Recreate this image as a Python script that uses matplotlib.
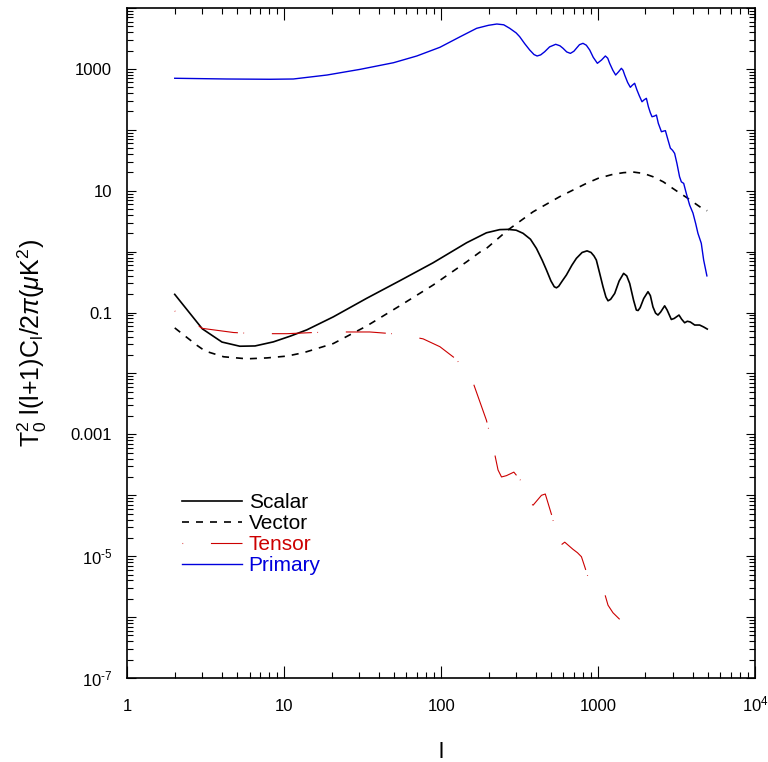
import numpy as np
import matplotlib
matplotlib.use("Agg")
import matplotlib.pyplot as plt
from matplotlib.ticker import FixedLocator, LogLocator, NullFormatter

plt.rcParams['font.family'] = ['Liberation Sans', 'DejaVu Sans']
plt.rcParams['mathtext.fontset'] = 'custom'
plt.rcParams['mathtext.rm'] = 'Liberation Sans'
plt.rcParams['mathtext.it'] = 'Liberation Sans:italic'
plt.rcParams['mathtext.bf'] = 'Liberation Sans:bold'

# scalar (solid black)
l_scalar = [2, 3, 4, 5.2, 6.5, 8.5, 10.9, 13.9, 20.5, 33.4, 54.4, 88.7, 145, 194, 236, 266,
            300, 332, 370, 404, 440, 468, 500, 525, 542, 560, 590, 627, 680, 726, 790, 849,
            900, 940, 973, 1020, 1073, 1120, 1155, 1200, 1274, 1360, 1452, 1520, 1588, 1680,
            1750, 1795, 1850, 1950, 2077, 2150, 2233, 2320, 2404, 2500, 2652, 2750, 2925, 3050,
            3273, 3400, 3556, 3700, 3865, 4121, 4430, 4700, 4955]
c_scalar = [0.199, 0.054, 0.0328, 0.028, 0.0283, 0.033, 0.041, 0.052, 0.085, 0.171, 0.333, 0.657,
            1.40, 2.04, 2.30, 2.32, 2.25, 2.0, 1.6, 1.13, 0.72, 0.50, 0.33, 0.265, 0.255, 0.27,
            0.33, 0.413, 0.6, 0.776, 0.97, 1.03, 0.97, 0.85, 0.728, 0.45, 0.266, 0.18, 0.156,
            0.165, 0.206, 0.33, 0.44, 0.40, 0.30, 0.16, 0.11, 0.108, 0.12, 0.17, 0.22, 0.19,
            0.124, 0.098, 0.091, 0.102, 0.129, 0.11, 0.077, 0.08, 0.091, 0.078, 0.068, 0.072,
            0.070, 0.0624, 0.0624, 0.058, 0.0536]

# vector (dashed black)
l_vector = [2, 2.77, 3.13, 4.1, 5.77, 7.74, 10.4, 13.3, 20.5, 33.4, 54.4, 88.7, 145, 176, 194,
            266, 384, 569, 841, 1000, 1242, 1450, 1666, 1950, 2233, 2600, 2992, 3300, 3645,
            4100, 4613, 4950]
c_vector = [0.056, 0.029, 0.0233, 0.0188, 0.0174, 0.018, 0.0193, 0.022, 0.031, 0.06, 0.129, 0.283,
            0.68, 0.98, 1.13, 2.27, 4.5, 8.0, 13.2, 16.0, 18.6, 19.8, 20.3, 19.2, 17.0, 14.0,
            10.9, 9.2, 7.8, 6.3, 5.1, 4.7]

# tensor (red dash-dot)
l_tensor = [2, 3, 4.75, 6.7, 10.4, 15.3, 23.7, 35, 54.4, 76.6, 98, 125, 160, 194, 214, 230, 242,
            260, 290, 332, 366, 385, 435, 460, 511, 555, 574, 612, 690, 738, 782, 821, 883,
            930, 1000, 1099, 1155, 1242, 1370]
c_tensor = [0.106, 0.055, 0.047, 0.045, 0.045, 0.047, 0.048, 0.048, 0.044, 0.037, 0.0275, 0.017,
            0.0069, 0.0017, 6.3e-4, 2.6e-4, 2.0e-4, 2.1e-4, 2.4e-4, 1.57e-4, 7.4e-5, 6.9e-5,
            1.0e-4, 1.05e-4, 4.3e-5, 1.6e-5, 1.5e-5, 1.7e-5, 1.3e-5, 1.14e-5, 9.8e-6, 6.7e-6,
            3.7e-6, 3.2e-6, 3.0e-6, 2.45e-6, 1.57e-6, 1.18e-6, 9.2e-7]

# primary (blue)
l_primary = [2, 4.3, 8.1, 11.4, 18.7, 30.4, 49.6, 69.8, 98, 132, 168, 200, 226, 250, 273, 300,
             316, 340, 366, 390, 408, 430, 456, 490, 536, 570, 597, 630, 665, 700, 726, 760,
             800, 840, 883, 930, 988, 1050, 1111, 1150, 1183, 1240, 1292, 1350, 1405, 1440,
             1475, 1540, 1603, 1650, 1707, 1766, 1830, 1902, 1960, 2028, 2089, 2150, 2203, 2280,
             2350, 2416, 2529, 2600, 2681, 2786, 2884, 2980, 3070, 3176, 3300, 3388, 3507, 3645,
             3828, 4018, 4180, 4322, 4540, 4700, 4930]
c_primary = [702, 683, 676, 683, 794, 984, 1264, 1630, 2264, 3380, 4640, 5200, 5460, 5300, 4640,
             3900, 3380, 2600, 2044, 1720, 1630, 1700, 1915, 2300, 2535, 2400, 2180, 1900, 1800,
             1950, 2180, 2500, 2630, 2450, 2044, 1550, 1236, 1400, 1630, 1500, 1236, 950, 794,
             900, 1023, 950, 794, 600, 499, 540, 581, 451, 360, 289, 310, 329, 239, 190, 164,
             168, 175, 128, 93, 95, 97, 68, 50, 46, 41, 28, 17, 14, 13.2, 9, 5.8, 4.3, 2.9, 2.0,
             1.37, 0.73, 0.4]

x_ticks = [1, 10, 100, 1000, 1e4]
x_labels = ['1', '10', '100', '1000', r'10$^4$']
y_ticks = [1e-7, 1e-6, 1e-5, 1e-4, 1e-3, 1e-2, 1e-1, 1, 10, 100, 1000, 1e4]
y_labels = [r'10$^{\text{-7}}$', '', r'10$^{\text{-5}}$', '', '0.001', '', '0.1', '', '10', '',
            '1000', '']

fig = plt.figure(figsize=(7.68, 7.62), dpi=100)
ax = fig.add_axes([0.166, 0.1102, 0.8172, 0.8793])

ax.plot(l_scalar, c_scalar, color='black', lw=1.2, label='Scalar')
ax.plot(l_vector, c_vector, color='black', lw=1.2, linestyle=(0, (4.2, 4.2)), label='Vector')
ax.plot(l_tensor, c_tensor, color='#cc0000', lw=0.8, linestyle=(0, (0.6, 25, 36, 5)), label='Tensor')
ax.plot(l_primary, c_primary, color='#0000dd', lw=1.0, label='Primary')

ax.set_xscale('log')
ax.set_yscale('log')
ax.set_xlim(1, 1e4)
ax.set_ylim(1e-7, 1e4)

ax.xaxis.set_major_locator(FixedLocator(x_ticks))
ax.set_xticklabels(x_labels)
ax.yaxis.set_major_locator(FixedLocator(y_ticks))
ax.set_yticklabels(y_labels)
ax.xaxis.set_minor_locator(LogLocator(base=10, subs=np.arange(2, 10), numticks=20))
ax.yaxis.set_minor_locator(LogLocator(base=10, subs=np.arange(2, 10), numticks=20))
ax.xaxis.set_minor_formatter(NullFormatter())
ax.yaxis.set_minor_formatter(NullFormatter())

ax.tick_params(axis='both', which='both', direction='in', top=True, right=True, width=0.8)
ax.tick_params(axis='x', which='major', length=8.5, pad=24, labelsize=12)
ax.tick_params(axis='x', which='minor', length=4.5)
ax.tick_params(axis='y', which='major', length=6.5, pad=11, labelsize=12)
ax.tick_params(axis='y', which='minor', length=4)
for t in ax.get_xticklabels():
    t.set_verticalalignment('baseline')
for t in ax.get_yticklabels():
    t.set_verticalalignment('center_baseline')
for s in ax.spines.values():
    s.set_linewidth(1.2)

ax.set_xlabel('l', fontsize=16)
ax.xaxis.set_label_coords(0.5, -0.095)
ax.set_ylabel(r'T$_0^2$ l(l+1)C$_\mathrm{l}$/2$\pi$($\mu$K$^2$)', fontsize=18)
ax.yaxis.set_label_coords(-0.125, 0.5)

ax.legend(loc='upper left', bbox_to_anchor=(0.0869, 0.276), frameon=False, fontsize=15,
          labelcolor='linecolor', handlelength=2.9, handletextpad=0.3, labelspacing=0.1,
          borderpad=0, borderaxespad=0)

fig.savefig('out.png', dpi=100)
